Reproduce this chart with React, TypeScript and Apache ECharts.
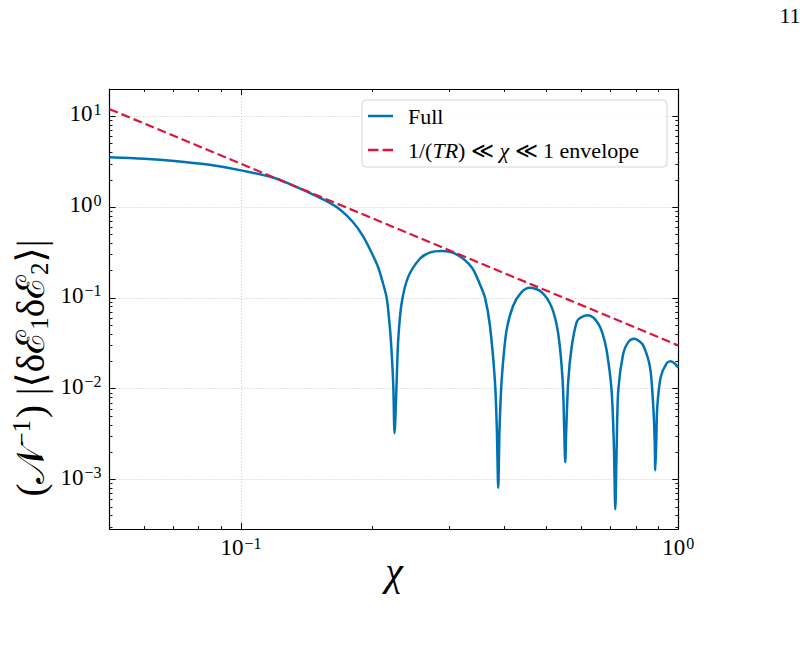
import React, { useEffect, useRef } from 'react';
import * as echarts from 'echarts';

// Axis ranges
const xMin = 0.05;
const xMax = 1;
const yMin = 2.85e-4;
const yMax = 20;

// Tick positions
const xMajorTicks = [0.1, 1];
const xMinorTicks = [0.05, 0.06, 0.07, 0.08, 0.09, 0.2, 0.3, 0.4, 0.5, 0.6, 0.7, 0.8, 0.9];
const yMajorTicks = [0.001, 0.01, 0.1, 1, 10];
const yMinorTicks = [
  0.0003, 0.0004, 0.0005, 0.0006, 0.0007, 0.0008, 0.0009,
  0.002, 0.003, 0.004, 0.005, 0.006, 0.007, 0.008, 0.009,
  0.02, 0.03, 0.04, 0.05, 0.06, 0.07, 0.08, 0.09,
  0.2, 0.3, 0.4, 0.5, 0.6, 0.7, 0.8, 0.9,
  2, 3, 4, 5, 6, 7, 8, 9, 20,
];

// Series: Full
const fullX = [
  0.05, 0.06, 0.0704, 0.0839, 0.1, 0.1192, 0.13, 0.142, 0.155, 0.168, 0.18, 0.19, 0.1985,
  0.2058, 0.2102, 0.2151, 0.2178, 0.2201, 0.2228, 0.2244, 0.2268, 0.2287, 0.2328, 0.241,
  0.2564, 0.27, 0.2874, 0.311, 0.3367, 0.352, 0.3614, 0.3707, 0.3806, 0.3846, 0.3874, 0.39,
  0.3944, 0.4047, 0.4193, 0.438, 0.4576, 0.4867, 0.5132, 0.5313, 0.5438, 0.5484, 0.5513,
  0.5542, 0.5602, 0.5704, 0.5855, 0.5958, 0.6191, 0.639, 0.656, 0.6706, 0.6857, 0.7037,
  0.7124, 0.7176, 0.7228, 0.729, 0.748, 0.7683, 0.7918, 0.81, 0.8316, 0.8615, 0.8766,
  0.883, 0.8858, 0.8906, 0.8952, 0.9114, 0.9408, 0.9607, 0.9826, 1.0,
];
const fullY = [
  3.55, 3.42, 3.23, 2.94, 2.54, 2.09, 1.77, 1.47, 1.2, 0.95, 0.69, 0.48, 0.32,
  0.218, 0.156, 0.102, 0.0615, 0.034, 0.0114, 0.00324, 0.0114, 0.034, 0.0863, 0.1695,
  0.27, 0.315, 0.3277, 0.301, 0.218, 0.14, 0.1, 0.05, 0.0123, 0.0035, 0.00081, 0.0035,
  0.0123, 0.0439, 0.0826, 0.116, 0.1295, 0.116, 0.0792, 0.0403, 0.0123, 0.0035, 0.00155,
  0.0035, 0.0123, 0.029, 0.054, 0.06, 0.0645, 0.061, 0.052, 0.041, 0.0264, 0.0096,
  0.00227, 0.00047, 0.00227, 0.0096, 0.0243, 0.0326, 0.0355, 0.034, 0.03, 0.0173, 0.0063,
  0.0027, 0.00126, 0.0027, 0.0063, 0.0134, 0.0191, 0.0201, 0.0188, 0.017,
];

// Series: envelope (straight line in log-log)
const envelopeX = [0.05, 1];
const envelopeY = [12, 0.03];

const seriesNames = ['Full', '1/(TR) ≪ χ ≪ 1 envelope'];

const FONT = '"Liberation Serif", "DejaVu Serif", serif';
const BLUE = '#0173b2';
const RED = '#dc143c';

const powLabel = (v: number) => {
  const e = Math.round(Math.log10(v));
  const s = e < 0 ? '−' + String(-e) : String(e);
  return '{b|10}{s|' + s + '}';
};

const tickRich = {
  b: { fontFamily: FONT, fontSize: 23, lineHeight: 24, verticalAlign: 'bottom', color: '#000' },
  s: { fontFamily: FONT, fontSize: 16, lineHeight: 16, verticalAlign: 'top', padding: [0, 0, 12, 1], color: '#000' },
};

const spine = { color: '#000', width: 1.2 };

export default function App() {
  const ref = useRef<HTMLDivElement>(null);

  useEffect(() => {
    if (!ref.current) return;
    const chart = echarts.init(ref.current, undefined, { renderer: 'svg' });

    const fullData = fullX.map((x, i) => [x, fullY[i]]);
    const envData = envelopeX.map((x, i) => [x, envelopeY[i]]);

    const minorX = (position: string) => ({
      type: 'log', logBase: 10, gridIndex: 0, position, min: xMin, max: xMax,
      axisLine: { show: false, onZero: false },
      axisTick: { show: true, inside: true, length: 3, customValues: xMinorTicks, lineStyle: { color: '#000', width: 0.9 } },
      axisLabel: { show: false },
      splitLine: { show: false },
      minorTick: { show: false },
    });
    const minorY = (position: string) => ({
      type: 'log', logBase: 10, gridIndex: 0, position, min: yMin, max: yMax,
      axisLine: { show: false, onZero: false },
      axisTick: { show: true, inside: true, length: 3, customValues: yMinorTicks, lineStyle: { color: '#000', width: 0.9 } },
      axisLabel: { show: false },
      splitLine: { show: false },
      minorTick: { show: false },
    });

    const option: any = {
      animation: false,
      backgroundColor: '#fff',
      grid: { left: 109.5, right: 127.7, top: 89, bottom: 117 },
      legend: {
        show: true,
        orient: 'vertical',
        left: 362,
        top: 100,
        padding: [5, 28, 6, 6],
        itemGap: 12,
        itemWidth: 25,
        itemHeight: 3,
        borderColor: '#d4d4d4',
        borderWidth: 1,
        borderRadius: 4,
        backgroundColor: 'rgba(255,255,255,0.85)',
        data: [
          { name: seriesNames[0], icon: 'path://M0,0H25V2.5H0Z', itemStyle: { color: BLUE } },
          { name: seriesNames[1], icon: 'path://M0,0H10V2.5H0Z M14,0H24V2.5H14Z', itemStyle: { color: RED } },
        ],
        formatter: (n: string) => (n === seriesNames[1] ? '1/({i|TR}) ≪ {i|χ} ≪ 1 envelope' : n),
        textStyle: {
          fontFamily: FONT, fontSize: 22, color: '#000', padding: [0, 0, 0, 10],
          rich: { i: { fontFamily: FONT, fontSize: 22, fontStyle: 'italic', color: '#000' } },
        },
      },
      xAxis: [
        {
          type: 'log', logBase: 10, gridIndex: 0, position: 'bottom', min: xMin, max: xMax,
          axisLine: { show: true, onZero: false, lineStyle: spine },
          axisTick: { show: true, inside: true, length: 6, customValues: xMajorTicks, lineStyle: { color: '#000', width: 1 } },
          minorTick: { show: false },
          axisLabel: { show: true, customValues: xMajorTicks, formatter: powLabel, margin: 6, rich: tickRich },
          splitLine: { show: true, lineStyle: { color: '#b8b8b8', width: 0.8, type: [1, 2] } },
        },
        minorX('bottom'),
        {
          type: 'log', logBase: 10, gridIndex: 0, position: 'top', min: xMin, max: xMax,
          axisLine: { show: true, onZero: false, lineStyle: spine },
          axisTick: { show: true, inside: true, length: 6, customValues: xMajorTicks, lineStyle: { color: '#000', width: 1 } },
          minorTick: { show: false },
          axisLabel: { show: false },
          splitLine: { show: false },
        },
        minorX('top'),
      ],
      yAxis: [
        {
          type: 'log', logBase: 10, gridIndex: 0, position: 'left', min: yMin, max: yMax,
          axisLine: { show: true, onZero: false, lineStyle: spine },
          axisTick: { show: true, inside: true, length: 6, customValues: yMajorTicks, lineStyle: { color: '#000', width: 1 } },
          minorTick: { show: false },
          axisLabel: { show: true, customValues: yMajorTicks, formatter: powLabel, margin: 8, rich: tickRich, padding: [0, 0, 6, 0] },
          splitLine: { show: true, lineStyle: { color: '#b8b8b8', width: 0.8, type: [1, 2] } },
        },
        minorY('left'),
        {
          type: 'log', logBase: 10, gridIndex: 0, position: 'right', min: yMin, max: yMax,
          axisLine: { show: true, onZero: false, lineStyle: spine },
          axisTick: { show: true, inside: true, length: 6, customValues: yMajorTicks, lineStyle: { color: '#000', width: 1 } },
          minorTick: { show: false },
          axisLabel: { show: false },
          splitLine: { show: false },
        },
        minorY('right'),
      ],
      series: [
        {
          name: seriesNames[0], type: 'line', xAxisIndex: 0, yAxisIndex: 0,
          data: fullData, showSymbol: false, symbol: 'none',
          smooth: 0.3,
          lineStyle: { color: BLUE, width: 2.5 }, itemStyle: { color: BLUE },
        },
        {
          name: seriesNames[1], type: 'line', xAxisIndex: 0, yAxisIndex: 0,
          data: envData, showSymbol: false, symbol: 'none',
          lineStyle: { color: RED, width: 2.2, type: [9, 4] }, itemStyle: { color: RED },
        },
      ],
      graphic: [
        {
          type: 'text', x: 30, y: 368, rotation: Math.PI / 2,
          style: {
            text: '(𝒩{sup|−1}) |⟨δℰ{sub|1}δℰ{sub|2}⟩|',
            fontFamily: FONT, fontSize: 39, fill: '#000', align: 'center', verticalAlign: 'middle',
            rich: {
              sup: { fontFamily: FONT, fontSize: 25, verticalAlign: 'top', padding: [0, 2, 18, 0], fill: '#000' },
              sub: { fontFamily: FONT, fontSize: 25, verticalAlign: 'bottom', padding: [14, 0, 0, 0], fill: '#000' },
            },
          },
        },
        {
          type: 'text', x: 394, y: 571,
          style: { text: 'χ', fontFamily: FONT, fontStyle: 'italic', fontSize: 40, fill: '#000', align: 'center', verticalAlign: 'middle' },
        },
        {
          type: 'text', x: 790, y: 15,
          style: { text: '11', fontFamily: FONT, fontSize: 22, fill: '#000', align: 'center', verticalAlign: 'middle' },
        },
      ],
    };

    chart.setOption(option);
    return () => chart.dispose();
  }, []);

  return (
    <div
      ref={ref}
      style={{ position: 'absolute', left: 0, top: 0, width: 806, height: 646, background: '#fff' }}
    />
  );
}
